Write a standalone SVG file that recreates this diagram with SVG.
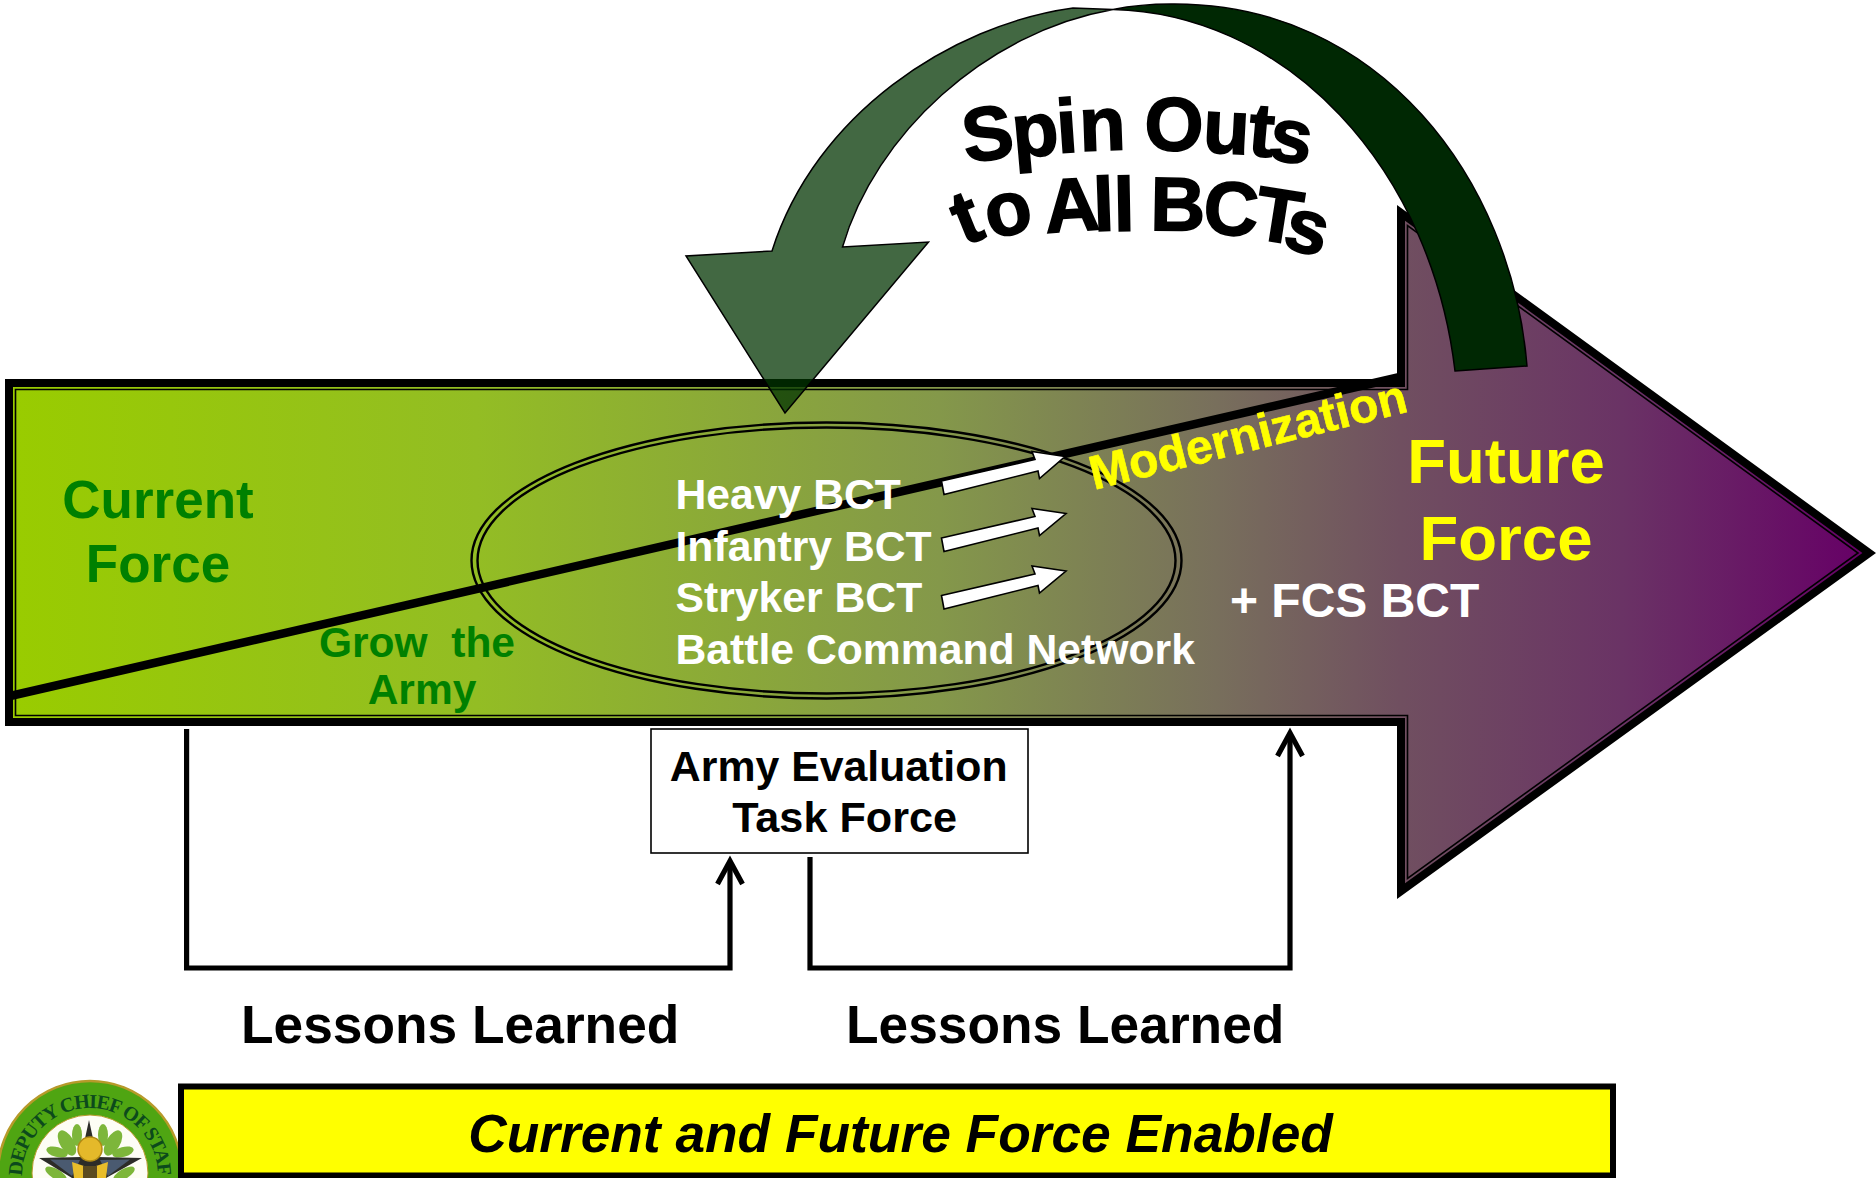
<svg xmlns="http://www.w3.org/2000/svg" width="1876" height="1178" viewBox="0 0 1876 1178">
<style>
text{font-family:"Liberation Sans",Arial,sans-serif;font-weight:700}
.cur{fill:#008000;text-anchor:middle}
.unit{fill:#fff;font-size:42.7px}
.yel{fill:#ffff00}
.blk{fill:#000}
.mid{text-anchor:middle}
.wa{font-size:76px;fill:#000;stroke:#000;stroke-width:1.6}
.wh{fill:#fff;stroke:#000;stroke-width:1.6;stroke-linejoin:miter}
.conn{fill:none;stroke:#000;stroke-width:5.2}
</style>
<defs>
<linearGradient id="flow" gradientUnits="userSpaceOnUse" x1="16" y1="0" x2="1862" y2="0">
<stop offset="0" stop-color="#99cc00"/>
<stop offset=".25" stop-color="#93bd24"/>
<stop offset=".5" stop-color="#84984a"/>
<stop offset=".65" stop-color="#786f5c"/>
<stop offset=".75" stop-color="#704f60"/>
<stop offset=".87" stop-color="#6a3365"/>
<stop offset="1" stop-color="#660066"/>
</linearGradient>
<marker id="open" markerUnits="userSpaceOnUse" markerWidth="40" markerHeight="40" refX="32" refY="15" orient="auto">
<path d="M9,2.5 L32,15 L9,27.5" fill="none" stroke="#000" stroke-width="5.2"/>
</marker>
<path id="sealArc" d="M22,1176 A68,68 0 1 1 158,1176"/>
</defs>

<g id="force-arrow">
<polygon points="5,379 1397,379 1397,205 1876,553 1397,899 1397,726 5,726" fill="#000"/>
<polygon points="13,387 1405,387 1405,220.7 1862.4,553 1405,883.3 1405,718 13,718" fill="url(#flow)"/>
<polygon points="15.5,389.5 1407.5,389.5 1407.5,225.6 1858,553 1407.5,878.4 1407.5,715.5 15.5,715.5" fill="none" stroke="#000" stroke-width="1.6"/>
</g>

<g id="bct-ellipse" fill="none" stroke="#000" stroke-width="2.4">
<ellipse cx="826.5" cy="560.5" rx="355" ry="138"/>
<ellipse cx="826.5" cy="560.5" rx="349" ry="133"/>
</g>

<g id="modernization-line">
<line x1="8" y1="696.5" x2="1400" y2="377" stroke="#000" stroke-width="8.5"/>
</g>

<g id="current-force">
<text class="cur" x="158" y="518" font-size="53">Current</text>
<text class="cur" x="158" y="582" font-size="53">Force</text>
</g>
<g id="grow-army">
<text class="cur" x="417" y="657" font-size="42.5" xml:space="preserve">Grow  the</text>
<text class="cur" x="422" y="704" font-size="42.5">Army</text>
</g>
<g id="bct-list">
<text class="unit" x="675.5" y="509">Heavy BCT</text>
<text class="unit" x="675.5" y="561">Infantry BCT</text>
<text class="unit" x="675.5" y="612">Stryker BCT</text>
<text class="unit" x="675.5" y="664">Battle Command Network</text>
</g>
<g id="white-arrows">
<polygon class="wh" points="941.5,481 1035,459.5 1032,451.5 1065,456.5 1039.5,478.5 1038,471 944,494.5"/>
<polygon class="wh" points="941.5,538 1035,516.5 1032,508.5 1066,513.5 1039.5,535.5 1038,528 944,551.5"/>
<polygon class="wh" points="941.5,595.5 1035,574 1032,566 1066,571 1039.5,593 1038,585.5 944,609"/>
</g>
<g id="modernization">
<text class="yel" transform="translate(1094,490) rotate(-14)" font-size="48" stroke="#ffff00" stroke-width=".6">Modernization</text>
</g>
<g id="future-force">
<text class="yel mid" x="1506" y="482.5" font-size="63.5">Future</text>
<text class="yel mid" x="1506" y="559.5" font-size="63.5">Force</text>
<text x="1230" y="617" font-size="48" fill="#fff">+ FCS BCT</text>
</g>

<g id="spin-outs-arrow">
<path d="M1113,9.5 L1073,8 C950,25 815,115 772,251 L686,256 L785,413 L928.5,242 L842.5,247 C875,135 985,32 1113,9.5 Z" fill="#003300" fill-opacity=".74" stroke="#000" stroke-width="1.5" stroke-linejoin="miter"/>
<path d="M1455,371 L1527,366 C1512,180 1380,2 1171,4 Q1140,4 1113,9.5 A352,420 0 0 1 1455,371 Z" fill="#002803" stroke="#000" stroke-width="1.5"/>
</g>
<g id="spin-outs-label">
<text class="wa" x="966 1014 1058 1080 1110 1144 1202 1247 1267" y="163 158 153 151 150 150 152 155 159" rotate="-8 -5 -4 -2 0 1 3 5 8">Spin Outs</text>
<text class="wa" x="964 990 1020 1046 1094 1114 1135 1150 1202 1252 1281" y="246 239 235 233 231 231 230 230 233 238 247" rotate="-22 -12 0 -4 -2 -1 0 1 4 9 14">to All BCTs</text>
</g>

<g id="evaluation-box">
<rect x="651" y="729" width="377" height="124" fill="#fff" stroke="#000" stroke-width="1.6"/>
<text class="blk mid" x="838.7" y="781" font-size="42.8">Army Evaluation</text>
<text class="blk mid" x="844.6" y="832" font-size="43.2">Task Force</text>
</g>

<g id="connectors">
<polyline class="conn" points="186.6,729 186.6,968 730,968 730,861" marker-end="url(#open)"/>
<polyline class="conn" points="810,857 810,968 1290,968 1290,733" marker-end="url(#open)"/>
</g>
<g id="lessons-labels">
<text class="blk" x="241" y="1043" font-size="53.3">Lessons Learned</text>
<text class="blk" x="846" y="1043" font-size="53.3">Lessons Learned</text>
</g>

<g id="seal">
<circle cx="90" cy="1173" r="92" fill="#4fa512" stroke="#b79a2a" stroke-width="2.5"/>
<circle cx="90" cy="1173" r="58" fill="#fdfdf5" stroke="#b79a2a" stroke-width="1"/>
<text font-size="20" letter-spacing="-1.2" fill="#0c4a1c" style="font-family:'Liberation Serif',serif"><textPath href="#sealArc">DEPUTY CHIEF OF STAFF</textPath></text>
<g fill="#7db63a">
<ellipse cx="67" cy="1143" rx="7" ry="14" transform="rotate(-30 67 1143)"/>
<ellipse cx="113" cy="1143" rx="7" ry="14" transform="rotate(30 113 1143)"/>
<ellipse cx="77" cy="1135" rx="5" ry="11"/>
<ellipse cx="103" cy="1135" rx="5" ry="11"/>
<ellipse cx="57" cy="1152" rx="5" ry="11" transform="rotate(-75 57 1152)"/>
<ellipse cx="123" cy="1152" rx="5" ry="11" transform="rotate(75 123 1152)"/>
<ellipse cx="56" cy="1174" rx="5" ry="12" transform="rotate(-60 56 1174)"/>
<ellipse cx="124" cy="1174" rx="5" ry="12" transform="rotate(60 124 1174)"/>
</g>
<polygon points="89,1120 97,1157 142,1158 106,1178 72,1178 39,1158 81,1157" fill="#2c2c28"/>
<polygon points="50,1159.5 80,1160 72,1176" fill="#4a5a70"/>
<polygon points="130,1159.5 100,1160 108,1176" fill="#4a5a70"/>
<path d="M72,1162 L84,1166 L96,1166 L108,1162 L106,1178 L74,1178 Z" fill="#e8bd2a"/>
<circle cx="90" cy="1149" r="12" fill="#e4b92a" stroke="#b08a14" stroke-width="1.5"/>
<rect x="83" y="1166" width="14" height="12" fill="#5a4a20"/>
</g>

<g id="enabled-banner">
<rect x="181" y="1086.5" width="1432" height="89" fill="#ffff00" stroke="#000" stroke-width="6"/>
<text class="blk mid" x="900.5" y="1151.5" font-size="53.3" font-style="italic">Current and Future Force Enabled</text>
</g>
</svg>
